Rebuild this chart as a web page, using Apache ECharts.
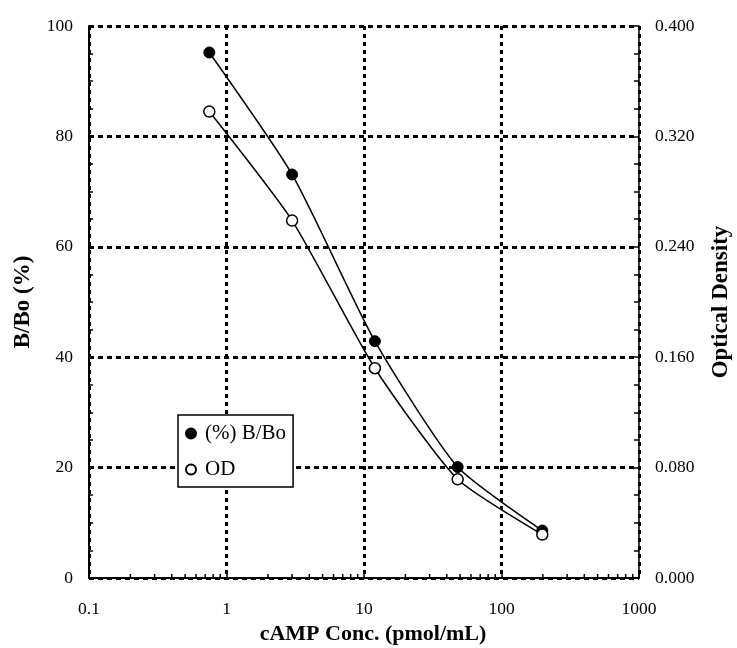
<!DOCTYPE html>
<html><head><meta charset="utf-8">
<script src="https://cdn.jsdelivr.net/npm/echarts@6/dist/echarts.min.js"></script>
<style>html,body{margin:0;padding:0;background:#fff}#c{width:737px;height:648px}</style>
</head><body><div id="c"></div>
<script>
const conc = [0.75, 3, 12, 48, 198];
const bbo = [95.2, 73.1, 42.9, 20.1, 8.6];
const od = [0.338, 0.259, 0.152, 0.0715, 0.0315];
const minorTickValues = [0.2,0.3,0.4,0.5,0.6,0.7,0.8,0.9,2,3,4,5,6,7,8,9,20,30,40,50,60,70,80,90,200,300,400,500,600,700,800,900];
const names = ['(%) B/Bo', 'OD'];

const font = 'Liberation Serif';
const chart = echarts.init(document.getElementById('c'), null, {renderer:'canvas'});
const gridLineH = {show:true, lineStyle:{color:'#000', width:3, type:[5,4]}};
const gridLineV = {show:true, lineStyle:{color:'#000', width:3, type:[4,4]}};
chart.setOption({
  animation:false,
  backgroundColor:'#fff',
  grid:{left:89, right:98, top:26, bottom:70, outerBoundsMode:'none', containLabel:false},
  legend:{
    left:178, top:415, orient:'vertical',
    backgroundColor:'#fff', borderColor:'#000', borderWidth:1.5,
    padding:[8,7,7,7], itemGap:15, itemWidth:10, itemHeight:10,
    icon:'circle',
    textStyle:{fontFamily:font, fontSize:21, color:'#000', padding:[0,0,0,4]},
    data:names
  },
  xAxis:{
    type:'log', logBase:10, min:0.1, max:1000,
    name:'cAMP Conc. (pmol/mL)', nameLocation:'middle', nameGap:45,
    nameTextStyle:{fontFamily:font, fontSize:22, fontWeight:'bold', color:'#000', padding:[0,0,0,18]},
    axisLine:{show:true, onZero:false, lineStyle:{color:'#000', width:2}},
    axisTick:{show:true, inside:true, length:6, lineStyle:{color:'#000', width:1.5}},
    axisLabel:{fontFamily:font, fontSize:17.5, color:'#000', margin:22,
      formatter:function(v){return String(v);}},
    splitLine:gridLineV
  },
  yAxis:[{
    type:'value', min:0, max:100, interval:20, position:'left',
    name:'B/Bo (%)', nameLocation:'middle', nameGap:54,
    nameTextStyle:{fontFamily:font, fontSize:23, fontWeight:'bold', color:'#000'},
    axisLine:{show:true, lineStyle:{color:'#000', width:2}},
    axisTick:{show:true, inside:true, length:5, lineStyle:{color:'#000', width:1.5}},
    minorTick:{show:true, splitNumber:4, length:4, lineStyle:{color:'#000', width:1.5}},
    axisLabel:{fontFamily:font, fontSize:17.5, color:'#000', margin:16},
    splitLine:gridLineH
  },{
    type:'value', min:0, max:0.4, interval:0.08, position:'right',
    name:'Optical Density', nameLocation:'middle', nameGap:71,
    nameTextStyle:{fontFamily:font, fontSize:23, fontWeight:'bold', color:'#000'},
    axisLine:{show:true, lineStyle:{color:'#000', width:1.5}},
    axisTick:{show:true, inside:true, length:5, lineStyle:{color:'#000', width:1.5}},
    minorTick:{show:true, splitNumber:4, length:5, lineStyle:{color:'#000', width:1.5}},
    axisLabel:{fontFamily:font, fontSize:17.5, color:'#000', margin:16,
      formatter:function(v){return v.toFixed(3);}},
    splitLine:{show:false}
  }],
  series:[{
    name:names[0], type:'line', yAxisIndex:0, smooth:0.2,
    data:conc.map((c,i)=>[c,bbo[i]]),
    symbol:'circle', symbolSize:11,
    lineStyle:{color:'#000', width:1.5},
    itemStyle:{color:'#000', borderColor:'#000', borderWidth:1},
    z:5
  },{
    name:names[1], type:'line', yAxisIndex:1, smooth:0.2,
    data:conc.map((c,i)=>[c,od[i]]),
    symbol:'circle', symbolSize:11,
    lineStyle:{color:'#000', width:1.5},
    itemStyle:{color:'#fff', borderColor:'#000', borderWidth:1.5},
    z:6
  },{
    type:'custom', yAxisIndex:0, silent:true,
    data:minorTickValues.map(v=>[v,0]),
    renderItem:function(params, api){
      const p = api.coord([api.value(0), 0]);
      return {type:'line', shape:{x1:p[0], y1:p[1], x2:p[0], y2:p[1]-4},
        style:{stroke:'#000', lineWidth:1.5}};
    },
    z:7
  }]
});
</script></body></html>
